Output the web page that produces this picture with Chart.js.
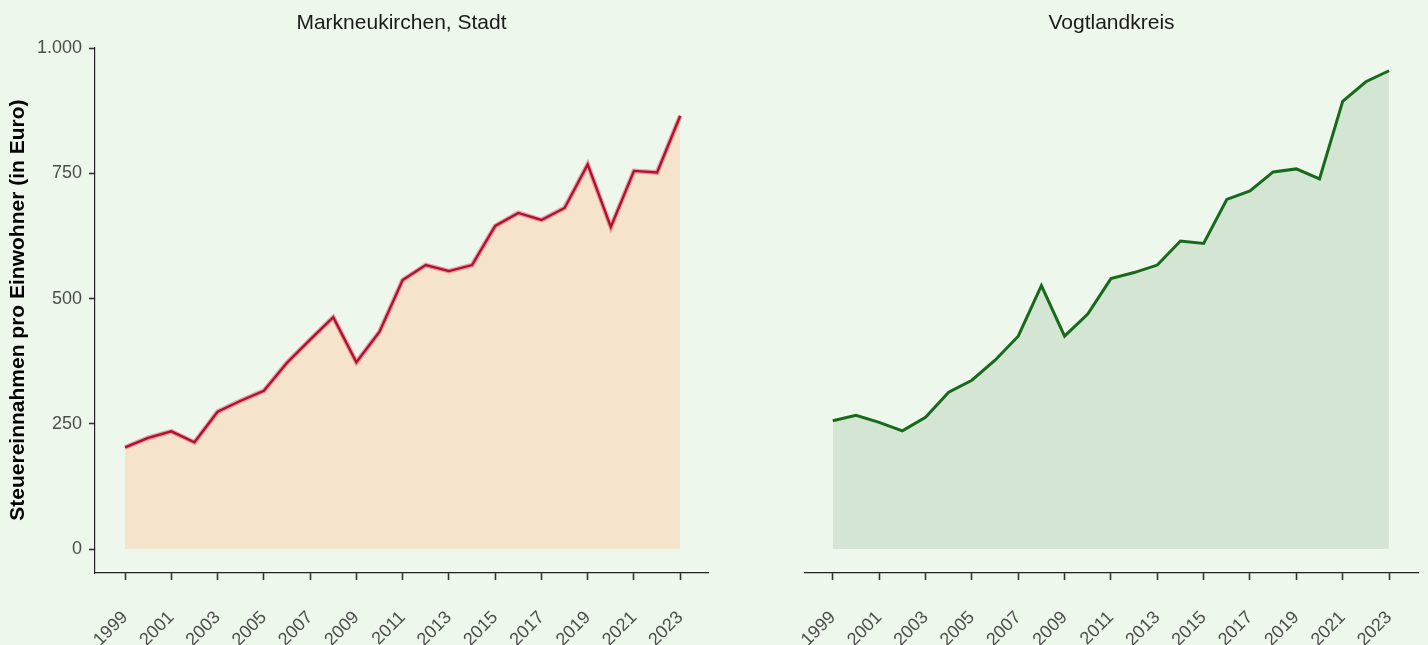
<!DOCTYPE html>
<html lang="de">
<head>
<meta charset="utf-8">
<title>Steuereinnahmen pro Einwohner</title>
<script src="https://cdn.jsdelivr.net/npm/chart.js@4/dist/chart.umd.min.js"></script>
<style>
  html, body { margin:0; padding:0; background:#edf7eb; }
  body { width:1428px; height:645px; position:relative; overflow:hidden; }
  .panel { position:absolute; top:0; width:714px; height:645px; }
  #leftPanel { left:0; }
  #rightPanel { left:714px; }
</style>
</head>
<body>
<div class="panel" id="leftPanel"><canvas id="chartStadt"></canvas></div>
<div class="panel" id="rightPanel"><canvas id="chartKreis"></canvas></div>
<script>
// data (Euro per inhabitant)
const years = [1999,2000,2001,2002,2003,2004,2005,2006,2007,2008,2009,2010,2011,
               2012,2013,2014,2015,2016,2017,2018,2019,2020,2021,2022,2023];
const stadtValues = [203,222,235,213,274,296,316,372,418,463,373,434,537,
                     567,555,567,645,671,657,681,768,643,755,752,865];
const kreisValues = [256,267,253,236,263,313,337,377,425,526,425,469,540,
                     552,567,615,610,698,715,753,759,739,894,933,955];
const yTicks = [0, 250, 500, 750, 1000];
const xTicks = years.filter(y => y % 2 === 1);

const FONT = '"Liberation Sans", Arial, sans-serif';
const TICK_COLOR = '#4d4d4d';

function formatDe(v){
  return String(v).replace(/\B(?=(\d{3})+(?!\d))/g, '.');
}
function points(values){
  return years.map((y, i) => ({x: y, y: values[i]}));
}

function xScale(min, max){
  return {
    type:'linear',
    min:min, max:max,
    afterBuildTicks: s => { s.ticks = xTicks.map(v => ({value:v})); },
    afterFit: s => {
      s.height = 72;
      // keep the plot width fixed, labels may overflow
      s.paddingLeft = 0;
      s.paddingRight = 0;
    },
    border:{display:true, color:'#222', width:1.2},
    grid:{drawOnChartArea:false, drawTicks:true, tickLength:7, tickColor:'#333', tickWidth:1.6},
    ticks:{
      color:TICK_COLOR, font:{family:FONT, size:18},
      minRotation:45, maxRotation:45, padding:27,
      callback: v => String(v)
    }
  };
}

function panelTitle(text){
  return {
    display:true, text:text, fullSize:false,
    color:'#1a1a1a', font:{family:FONT, size:21, weight:'normal'},
    padding:{top:11, bottom:11}
  };
}

// --- left panel: Markneukirchen, Stadt ---
new Chart(document.getElementById('chartStadt'), {
  type:'line',
  data:{
    datasets:[
      { // area
        data:points(stadtValues), fill:'origin', backgroundColor:'#f5e3cb',
        borderWidth:0, borderColor:'rgba(0,0,0,0)', pointRadius:0, order:3
      },
      { // soft halo under the line
        data:points(stadtValues), fill:false, borderColor:'rgba(214,60,90,0.45)',
        borderWidth:4.8, pointRadius:0, order:2
      },
      { // line
        data:points(stadtValues), fill:false, borderColor:'#b3102c',
        borderWidth:2.4, pointRadius:0, order:1
      }
    ]
  },
  options:{
    responsive:true, maintainAspectRatio:false, animation:false,
    layout:{padding:{left:0, right:6, top:0, bottom:0}},
    plugins:{ legend:{display:false}, tooltip:{enabled:false}, title:panelTitle('Markneukirchen, Stadt') },
    scales:{
      x:xScale(1997.7, 2024.2),
      y:{
        min:-47.9, max:1002,
        afterBuildTicks: s => { s.ticks = yTicks.map(v => ({value:v})); },
        afterFit: s => { s.width = 95; },
        border:{display:true, color:'#222', width:1.2},
        grid:{drawOnChartArea:false, drawTicks:true, tickLength:6, tickColor:'#333', tickWidth:1.6},
        ticks:{color:TICK_COLOR, font:{family:FONT, size:18}, padding:7, callback: v => formatDe(v)},
        title:{
          display:true, text:'Steuereinnahmen pro Einwohner (in Euro)',
          color:'#000', font:{family:FONT, size:21, weight:'bold'}, padding:{top:6, bottom:0}
        }
      }
    }
  }
});

// --- right panel: Vogtlandkreis ---
new Chart(document.getElementById('chartKreis'), {
  type:'line',
  data:{
    datasets:[
      {
        data:points(kreisValues), fill:'origin', backgroundColor:'#d4e6d3',
        borderColor:'#176a1b', borderWidth:3, pointRadius:0
      }
    ]
  },
  options:{
    responsive:true, maintainAspectRatio:false, animation:false,
    layout:{padding:{left:91, right:10, top:0, bottom:0}},
    plugins:{ legend:{display:false}, tooltip:{enabled:false}, title:panelTitle('Vogtlandkreis') },
    scales:{
      x:xScale(1997.8, 2024.25),
      y:{ display:false, min:-47.9, max:1002 }
    }
  }
});
</script>
</body>
</html>
